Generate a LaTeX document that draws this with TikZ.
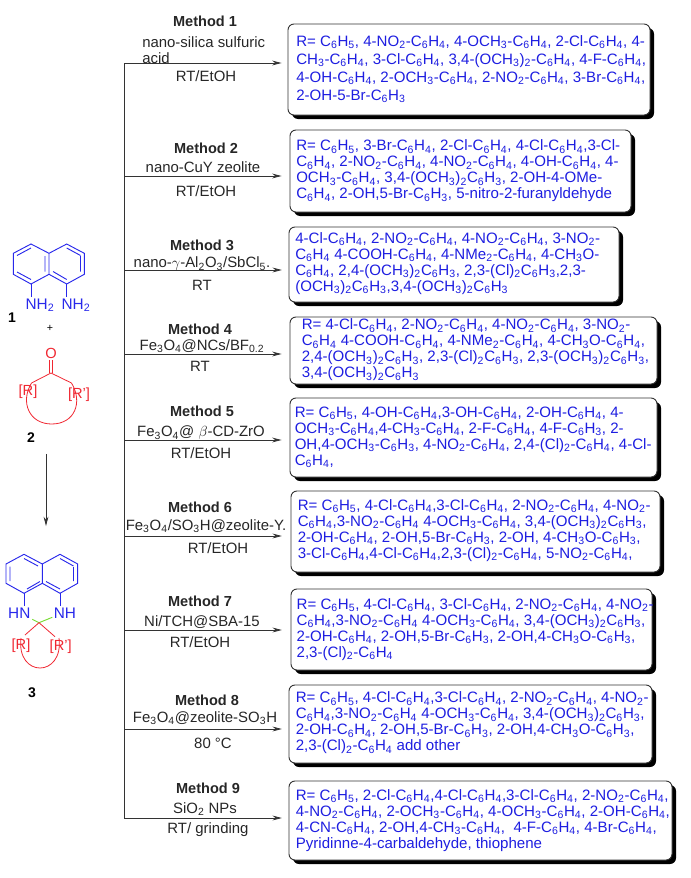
\documentclass[tikz,border=0pt]{standalone}
\usepackage{fontspec}
\setmainfont{Liberation Sans}
\usetikzlibrary{arrows.meta,shadows}
\newcommand{\ts}[1]{\textsubscript{#1}}
\newcommand{\aryl}{C\ts{6}H\ts{4}}
\newcommand{\arylt}{C\ts{6}H\ts{3}}
\newcommand{\nitro}{NO\ts{2}}
\newcommand{\meo}{OCH\ts{3}}
\definecolor{resblue}{RGB}{30,30,225}
\definecolor{ringblue}{RGB}{40,40,235}
\definecolor{ringred}{RGB}{240,40,50}
\definecolor{bondgreen}{RGB}{120,220,50}
\tikzset{
  resbox/.style 2 args={draw=black!80, line width=0.7pt, rounded corners=4.5pt, fill=white,
    minimum width=#1*0.75pt, minimum height=#2*0.75pt, inner sep=0pt,
    drop shadow={shadow xshift=3pt, shadow yshift=-3pt, opacity=1, fill=black}},
  restext/.style={anchor=west, align=left, inner sep=0pt, text=resblue,
    font=\fontsize{11.3}{12}\selectfont},
  methodname/.style={inner sep=0pt, font=\fontsize{10.9}{12}\selectfont\bfseries, text=black!85},
  cond/.style={inner sep=0pt, font=\fontsize{11.2}{12}\selectfont, text=black!85},
  flow/.style={-{Stealth[length=7pt,width=3.6pt]}, line width=0.6pt, draw=black!80},
  atomb/.style={inner sep=0pt, text=ringblue, font=\fontsize{11.5}{12}\selectfont},
  atomr/.style={inner sep=0pt, text=ringred, font=\fontsize{11}{12}\selectfont},
  cmpd/.style={inner sep=0pt, font=\fontsize{10.5}{12}\selectfont\bfseries},
  bondb/.style={draw=ringblue, line width=0.7pt},
  bondr/.style={draw=ringred, line width=0.6pt},
}
\begin{document}
\begin{tikzpicture}[x=0.75pt,y=-0.75pt]
  \useasboundingbox (0,0) rectangle (690,878);
  % result boxes
  \node[resbox={362}{91}] (box1) at (469,69.5) {};
  \node[restext] (res1) at (296,69) {R= C\ts{6}H\ts{5}, 4-\nitro-\aryl, 4-\meo-\aryl, 2-Cl-\aryl, 4-\\[1.5pt]
    CH\ts{3}-\aryl, 3-Cl-\aryl, 3,4-(\meo)\ts{2}-\aryl, 4-F-\aryl,\\[1.5pt]
    4-OH-\aryl, 2-\meo-\aryl, 2-\nitro-\aryl, 3-Br-\aryl,\\[1.5pt]
    2-OH-5-Br-\arylt};
  \node[resbox={341}{82}] (box2) at (460.5,171) {};
  \node[restext] (res2) at (296,171) {R= C\ts{6}H\ts{5}, 3-Br-\aryl, 2-Cl-\aryl, 4-Cl-\aryl,3-Cl-\\
    \aryl, 2-\nitro-\aryl, 4-\nitro-\aryl, 4-OH-\aryl, 4-\\
    \meo-\aryl, 3,4-(\meo)\ts{2}\arylt, 2-OH-4-OMe-\\
    \aryl, 2-OH,5-Br-\arylt, 5-nitro-2-furanyldehyde};
  \node[resbox={330}{75}] (box3) at (454,264.5) {};
  \node[restext] (res3) at (295,263.5) {4-Cl-\aryl, 2-\nitro-\aryl, 4-\nitro-\aryl, 3-\nitro-\\
    \aryl{} 4-COOH-\aryl, 4-NMe\ts{2}-\aryl, 4-CH\ts{3}O-\\
    \aryl, 2,4-(\meo)\ts{2}\arylt, 2,3-(Cl)\ts{2}\arylt,2,3-\\
    (\meo)\ts{2}\arylt,3,4-(\meo)\ts{2}\arylt};
  \node[resbox={367}{67}] (box4) at (473.5,350.5) {};
  \node[restext] (res4) at (301.5,350) {R= 4-Cl-\aryl, 2-\nitro-\aryl, 4-\nitro-\aryl, 3-\nitro-\\
    \aryl{} 4-COOH-\aryl, 4-NMe\ts{2}-\aryl, 4-CH\ts{3}O-\aryl,\\
    2,4-(\meo)\ts{2}\arylt, 2,3-(Cl)\ts{2}\arylt, 2,3-(\meo)\ts{2}\arylt,\\
    3,4-(\meo)\ts{2}\arylt};
  \node[resbox={367}{79}] (box5) at (473.5,437.5) {};
  \node[restext] (res5) at (294.5,437.5) {R= C\ts{6}H\ts{5}, 4-OH-\aryl,3-OH-\aryl, 2-OH-\aryl, 4-\\
    \meo-\aryl,4-CH\ts{3}-\aryl, 2-F-\aryl, 4-F-\arylt, 2-\\
    OH,4-\meo-\arylt, 4-\nitro-\aryl, 2,4-(Cl)\ts{2}-\aryl, 4-Cl-\\
    \aryl,};
  \node[resbox={369}{81}] (box6) at (475.5,531.5) {};
  \node[restext] (res6) at (297.5,530.5) {R= C\ts{6}H\ts{5}, 4-Cl-\aryl,3-Cl-\aryl, 2-\nitro-\aryl, 4-\nitro-\\
    \aryl,3-\nitro-\aryl{} 4-\meo-\aryl, 3,4-(\meo)\ts{2}\arylt,\\
    2-OH-\aryl, 2-OH,5-Br-\arylt, 2-OH, 4-CH\ts{3}O-\arylt,\\
    3-Cl-\aryl,4-Cl-\aryl,2,3-(Cl)\ts{2}-\aryl, 5-\nitro-\aryl,};
  \node[resbox={361}{81}] (box7) at (471.5,629.5) {};
  \node[restext] (res7) at (296.4,629.5) {R= C\ts{6}H\ts{5}, 4-Cl-\aryl, 3-Cl-\aryl, 2-\nitro-\aryl, 4-\nitro-\\
    \aryl,3-\nitro-\aryl{} 4-\meo-\aryl, 3,4-(\meo)\ts{2}\arylt,\\
    2-OH-\aryl, 2-OH,5-Br-\arylt, 2-OH,4-CH\ts{3}O-\arylt,\\
    2,3-(Cl)\ts{2}-\aryl};
  \node[resbox={363}{78}] (box8) at (470.5,724) {};
  \node[restext] (res8) at (295.6,723) {R= C\ts{6}H\ts{5}, 4-Cl-\aryl,3-Cl-\aryl, 2-\nitro-\aryl, 4-\nitro-\\
    \aryl,3-\nitro-\aryl{} 4-\meo-\aryl, 3,4-(\meo)\ts{2}\arylt,\\
    2-OH-\aryl, 2-OH,5-Br-\arylt, 2-OH,4-CH\ts{3}O-\arylt,\\
    2,3-(Cl)\ts{2}-\aryl{} add other};
  \node[resbox={383}{79}] (box9) at (480.5,820.5) {};
  \node[restext] (res9) at (295.6,820.5) {R= C\ts{6}H\ts{5}, 2-Cl-\aryl,4-Cl-\aryl,3-Cl-\aryl, 2-\nitro-\aryl,\\
    4-\nitro-\aryl, 2-\meo-\aryl, 4-\meo-\aryl, 2-OH-\aryl,\\
    4-CN-\aryl, 2-OH,4-CH\ts{3}-\aryl,\ \ 4-F-\aryl, 4-Br-\aryl,\\
    Pyridinne-4-carbaldehyde, thiophene};
  % trunk and arrows
  \coordinate (t1) at (124,63);
  \coordinate (t2) at (124,176);
  \coordinate (t3) at (124,270);
  \coordinate (t4) at (124,354);
  \coordinate (t5) at (124,440);
  \coordinate (t6) at (124,536);
  \coordinate (t7) at (124,630);
  \coordinate (t8) at (124,729);
  \coordinate (t9) at (124,818);
  \draw[line width=0.6pt, draw=black!80] (t1) -- (t9);
  \draw[flow, shorten >=4.5pt] (t1) -- (t1 -| box1.west);
  \draw[flow, shorten >=6pt] (t2) -- (t2 -| box2.west);
  \draw[flow, shorten >=5pt] (t3) -- (t3 -| box3.west);
  \draw[flow, shorten >=6pt] (t4) -- (t4 -| box4.west);
  \draw[flow, shorten >=6pt] (t5) -- (t5 -| box5.west);
  \draw[flow, shorten >=6.5pt] (t6) -- (t6 -| box6.west);
  \draw[flow, shorten >=6.5pt] (t7) -- (t7 -| box7.west);
  \draw[flow, shorten >=5pt] (t8) -- (t8 -| box8.west);
  \draw[flow, shorten >=5pt] (t9) -- (t9 -| box9.west);
  % conditions
  \node[methodname] (m1) at (205,21) {Method 1};
  \node[cond, anchor=west] (m1a) at (142,42) {nano-silica sulfuric};
  \node[cond, anchor=west] (m1b) at (142,58) {acid};
  \node[cond] (m1c) at (206,76) {RT/EtOH};
  \node[methodname] (m2) at (206,148) {Method 2};
  \node[cond] (m2a) at (203,167) {nano-CuY zeolite};
  \node[cond] (m2b) at (206,191) {RT/EtOH};
  \node[methodname] (m3) at (202,245) {Method 3};
  \node[cond] (m3a) at (202,264) {nano-$\gamma$-Al\ts{2}O\ts{3}/SbCl\ts{5}.};
  \node[cond] (m3b) at (202,285) {RT};
  \node[methodname] (m4) at (200,329) {Method 4};
  \node[cond] (m4a) at (202,346) {Fe\ts{3}O\ts{4}@NCs/BF\ts{0.2}};
  \node[cond] (m4b) at (200,366) {RT};
  \node[methodname] (m5) at (202,411) {Method 5};
  \node[cond] (m5a) at (201,433) {Fe\ts{3}O\ts{4}@ $\beta$-CD-ZrO};
  \node[cond] (m5b) at (201,453) {RT/EtOH};
  \node[methodname] (m6) at (200,507) {Method 6};
  \node[cond] (m6a) at (206,526) {Fe\ts{3}O\ts{4}/SO\ts{3}H@zeolite-Y.};
  \node[cond] (m6b) at (218,548) {RT/EtOH};
  \node[methodname] (m7) at (200,601) {Method 7};
  \node[cond] (m7a) at (202,622) {Ni/TCH@SBA-15};
  \node[cond] (m7b) at (200,642) {RT/EtOH};
  \node[methodname] (m8) at (207,700) {Method 8};
  \node[cond] (m8a) at (205,718) {Fe\ts{3}O\ts{4}@zeolite-SO\ts{3}H};
  \node[cond] (m8b) at (213,743) {80 °C};
  \node[methodname] (m9) at (208,788) {Method 9};
  \node[cond] (m9a) at (205,809) {SiO\ts{2} NPs};
  \node[cond] (m9b) at (208,830) {RT/ grinding};
  % compound 1
  \draw[bondb] (31,244) -- (13.3,253.3) -- (13.3,274.3) -- (31,284) -- (49,274.3) -- (49,253.3) -- cycle;
  \draw[bondb] (49,253.3) -- (66.7,244) -- (84.3,253.3) -- (84.3,274.3) -- (66.7,284) -- (49,274.3);
  \draw[bondb] (31,248) -- (17,255.5);
  \draw[bondb] (17,272) -- (31,279.5);
  \draw[bondb] (45,256) -- (45,271.5) (53,271.5) -- (66.7,279.5) (66.7,248) -- (80.5,255.5) (80.5,256) -- (80.5,271.5);
  \node[atomb] (nh1) at (40,305) {NH\ts{2}};
  \node[atomb] (nh2) at (76,305) {NH\ts{2}};
  \draw[bondb] (31,284) -- (31,297);
  \draw[bondb] (66.7,284) -- (66.7,297);
  \node[cmpd] (c1) at (12,318) {1};
  \node[inner sep=0pt, font=\fontsize{8}{9}\selectfont] (plus) at (50,328) {+};
  % compound 2
  \node[atomr] (oxo) at (51,353) {O};
  \draw[bondr] (49.7,360) -- (49.7,373) (52.3,360) -- (52.3,373);
  \node[atomr] (r1) at (28,392) {[R]};
  \node[atomr] (r2) at (79,395) {[R']};
  \draw[bondr] (51,373) -- (31.5,383);
  \draw[bondr] (51,373) -- (71.5,383);
  \draw[bondr] (31.5,383) .. controls (20,402) and (29,424) .. (51.7,424) .. controls (75,424) and (83,402) .. (71.5,383);
  \node[cmpd] (c2) at (31,438) {2};
  \node[inner sep=0pt] (a1) at (46,453) {};
  \node[inner sep=0pt] (a2) at (46,527) {};
  \draw[flow] (a1) -- (a2);
  % compound 3
  \draw[bondb] (24,554.3) -- (6,564) -- (6,583.3) -- (24,593.3) -- (42.3,583.3) -- (42.3,564) -- cycle;
  \draw[bondb] (42.3,564) -- (60,554.3) -- (77.7,564) -- (77.7,583.3) -- (60,593.3) -- (42.3,583.3);
  \draw[bondb] (10,566.5) -- (10,581) (24,558.5) -- (38,566) (27,589) -- (40,581.5);
  \draw[bondb] (60,558.5) -- (73.5,566) (73.5,567) -- (73.5,581) (46,581.5) -- (60,589);
  \node[atomb] (hn) at (19.3,613.3) {HN};
  \node[atomb] (nh) at (65,613.3) {NH};
  \draw[bondb] (24,593.3) -- (24,606);
  \draw[bondb] (60,593.3) -- (60,606);
  \coordinate (spiro) at (39,622.7);
  \draw[draw=bondgreen, line width=0.7pt] (32.3,619.3) -- (spiro) -- (52.3,617.3);
  \node[atomr] (r3) at (21,646) {[R]};
  \node[atomr] (r4) at (60.7,646.7) {[R']};
  \draw[bondr] (25,635) -- (spiro) -- (55,636.7);
  \draw[bondr] (21,638) .. controls (16,678) and (64,678) .. (59,638);
  \node[cmpd] (c3) at (32,693) {3};
\end{tikzpicture}
\end{document}
